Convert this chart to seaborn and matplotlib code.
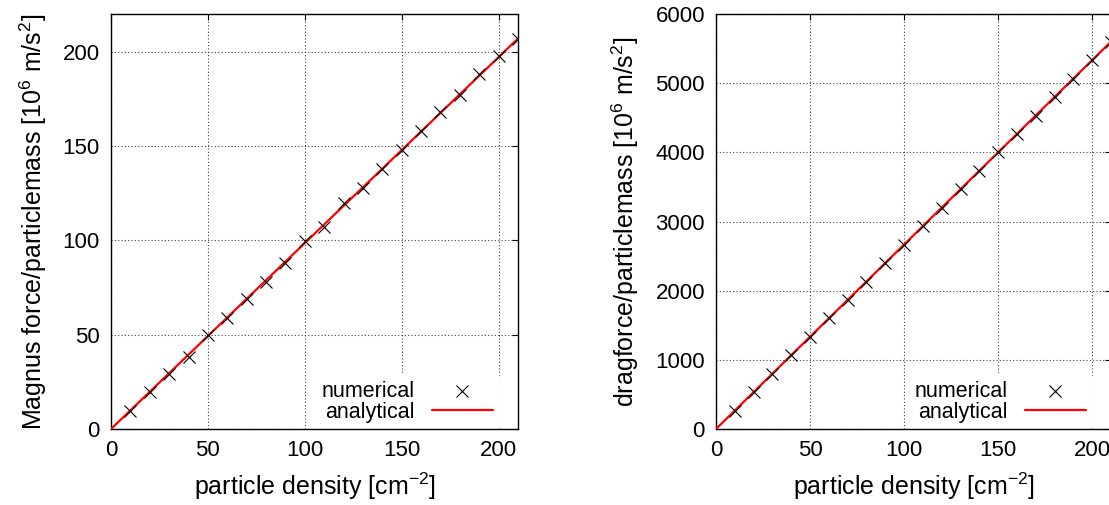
import matplotlib
matplotlib.use("Agg")
import matplotlib.pyplot as plt
import seaborn as sns
import pandas as pd

# particle density [cm^-2]
density = [10, 20, 30, 40, 50, 60, 70, 80, 90, 100, 110,
           120, 130, 140, 150, 160, 170, 180, 190, 200, 210]

# Magnus force / particle mass, numerical
magnus_num = [9.5, 19.5, 29, 38, 50, 59, 69, 78, 88, 99.5, 107,
              120, 128, 138, 148, 158, 168, 177, 188, 198, 207]
# drag force / particle mass, numerical
drag_num = [265, 530, 800, 1065, 1330, 1600, 1865, 2130, 2400, 2665, 2930,
            3200, 3465, 3730, 4000, 4265, 4530, 4800, 5065, 5330, 5600]

# analytical lines (end points)
line_x = [0, 210]
magnus_line = [0, 207]
drag_line = [0, 5600]

sns.set_theme(style="white")
plt.rcParams["font.family"] = ["Liberation Sans", "DejaVu Sans"]
plt.rcParams["mathtext.fontset"] = "custom"
plt.rcParams["mathtext.rm"] = "Liberation Sans"
plt.rcParams["mathtext.it"] = "Liberation Sans"
plt.rcParams["text.color"] = "black"


def draw_panel(ax, y_num, y_line, ylim, yticks, ylabel, width_px):
    num_df = pd.DataFrame({"x": density, "y": y_num})
    line_df = pd.DataFrame({"x": line_x, "y": y_line})
    sns.lineplot(data=line_df, x="x", y="y", color="#ff0000", lw=1.6,
                 ax=ax, label="analytical", zorder=3)
    sns.scatterplot(data=num_df, x="x", y="y", marker="x", color="black",
                    s=75, linewidth=0.8, ax=ax, label="numerical", zorder=4)
    ax.set_xlim(0, 210)
    ax.set_ylim(*ylim)
    ax.set_xticks([0, 50, 100, 150, 200])
    ax.set_yticks(yticks)
    ax.grid(True, color="#444444", linestyle=(0, (1, 2)), linewidth=0.8)
    ax.tick_params(direction="in", top=True, right=True, length=4.5,
                   width=0.8, color="black", labelsize=16, pad=8,
                   labelcolor="black")
    for sp in ax.spines.values():
        sp.set_color("black")
        sp.set_linewidth(1.0)
    ax.set_xlabel(r"particle density [cm$^{-2}$]", fontsize=18, color="black",
                  labelpad=7)
    ax.set_ylabel(ylabel, fontsize=18, color="black", labelpad=10)
    handles, labels = ax.get_legend_handles_labels()
    order = [labels.index("numerical"), labels.index("analytical")]
    leg = ax.legend([handles[i] for i in order], [labels[i] for i in order],
                    loc="lower right", bbox_to_anchor=(1 - 19 / width_px, 0.0),
                    markerfirst=False, frameon=True,
                    fontsize=15.5, handlelength=2.8, borderaxespad=0.0,
                    labelspacing=0.0, handletextpad=0.8, borderpad=0.3)
    leg.get_frame().set_facecolor("white")
    leg.get_frame().set_edgecolor("white")
    leg.get_frame().set_alpha(1)
    leg.set_zorder(2)


fig = plt.figure(figsize=(11.09, 5.05), dpi=100)
ax1 = fig.add_axes([111 / 1109, 76 / 505, 407 / 1109, 415 / 505])
ax2 = fig.add_axes([716 / 1109, 76 / 505, 395 / 1109, 415 / 505])

draw_panel(ax1, magnus_num, magnus_line, (0, 220), [0, 50, 100, 150, 200],
           r"Magnus force/particlemass [10$^6$ m/s$^2$]", 407)
draw_panel(ax2, drag_num, drag_line, (0, 6000),
           [0, 1000, 2000, 3000, 4000, 5000, 6000],
           r"dragforce/particlemass [10$^6$ m/s$^2$]", 395)

fig.savefig("out.png", dpi=100, facecolor="white")
